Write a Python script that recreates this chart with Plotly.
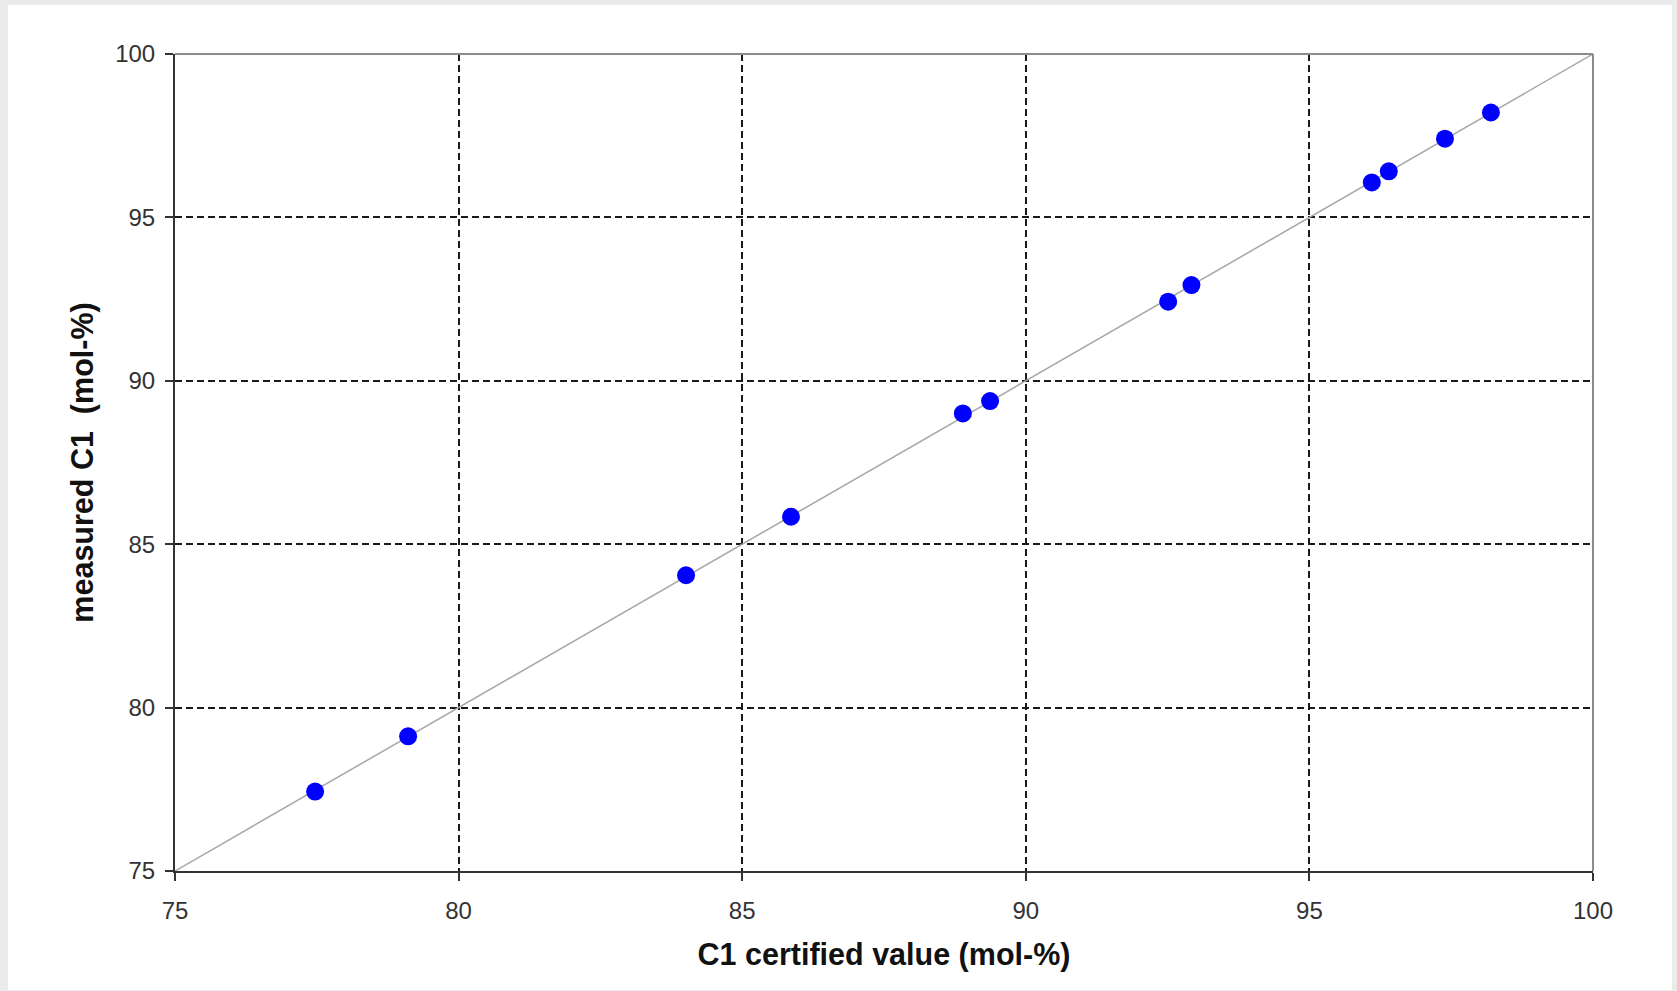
import plotly.graph_objects as go

# Data
certified = [77.47, 79.11, 84.01, 85.86, 88.89, 89.37, 92.51, 92.92, 96.10, 96.40, 97.39, 98.20]
measured = [77.43, 79.12, 84.05, 85.84, 89.00, 89.38, 92.42, 92.93, 96.07, 96.41, 97.41, 98.21]
identity_x = [75, 100]
identity_y = [75, 100]
tick_vals = [75, 80, 85, 90, 95, 100]

FONT = "Liberation Sans, Arial, sans-serif"

fig = go.Figure()
fig.add_trace(go.Scatter(x=identity_x, y=identity_y, mode="lines",
                         line=dict(color="#a6a6a6", width=1.5),
                         hoverinfo="skip", showlegend=False))
fig.add_trace(go.Scatter(x=certified, y=measured, mode="markers",
                         marker=dict(color="#0000ff", size=18, line=dict(width=0)),
                         showlegend=False))

W, H = 1677, 991
L, R, T, B = 175, 84, 54, 120
pw, ph = W - L - R, H - T - B

def px2x(p):
    return (p - L) / pw

def py2y(p):
    return (H - B - p) / ph

shapes = [
    # white card on grey page
    dict(type="rect", xref="paper", yref="paper", x0=px2x(8), x1=px2x(1672),
         y0=py2y(990), y1=py2y(5), fillcolor="white", line=dict(width=0), layer="below"),
    # grey top and right frame
    dict(type="line", xref="paper", yref="paper", x0=0, x1=1, y0=1, y1=1,
         line=dict(color="#8c8c8c", width=2), layer="above"),
    dict(type="line", xref="paper", yref="paper", x0=1, x1=1, y0=0, y1=1,
         line=dict(color="#8c8c8c", width=2), layer="above"),
]

axis_common = dict(
    range=[75, 100], tickmode="array", tickvals=tick_vals,
    showgrid=True, gridcolor="#1a1a1a", gridwidth=1.5, griddash="7px,4px",
    zeroline=False, showline=True, linecolor="#333333", linewidth=2,
    ticks="outside", ticklen=8, tickwidth=2, tickcolor="#333333",
    tickfont=dict(family=FONT, size=24, color="#333333"),
)

fig.update_layout(
    width=W, height=H,
    margin=dict(l=L, r=R, t=T, b=B),
    paper_bgcolor="#ebebeb", plot_bgcolor="white",
    shapes=shapes,
    xaxis=dict(**axis_common, ticklabelstandoff=9,
               title=dict(text="C1 certified value (mol-%)", standoff=21,
                          font=dict(family=FONT, size=30.5, color="#111111"))),
    yaxis=dict(**axis_common, ticklabelstandoff=5,
               title=dict(text="measured C1\u00a0 (mol-%)", standoff=12,
                          font=dict(family=FONT, size=30.5, color="#111111"))),
)
fig.update_xaxes(title_font_weight="bold")
fig.update_yaxes(title_font_weight="bold")

fig.write_html("out.html")
